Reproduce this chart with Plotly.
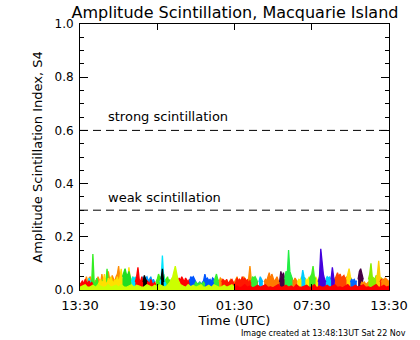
import plotly.graph_objects as go

# ---------------- data (hours since 13:30 UT, S4 values) ----------------
x_tick_vals = [0, 6, 12, 18, 24]
x_tick_text = ["13:30", "19:30", "01:30", "07:30", "13:30"]
y_tick_vals = [0.0, 0.2, 0.4, 0.6, 0.8, 1.0]
y_tick_text = ["0.0", "0.2", "0.4", "0.6", "0.8", "1.0"]
strong_level = 0.6
weak_level = 0.3

# each pass: (colour, start hour, step in hours, S4 values)
red1 = [0.02, 0.03, 0.035, 0.02, 0.04, 0.03, 0.025, 0.035, 0.02, 0.03, 0.02]
orange1 = [0.02, 0.04, 0.05, 0.03, 0.045, 0.05, 0.03, 0.04, 0.02, 0.035, 0.03, 0.05, 0.04, 0.025, 0.06,
           0.03, 0.045, 0.035, 0.05, 0.07, 0.04, 0.03, 0.055, 0.04, 0.03, 0.05, 0.06, 0.09, 0.04, 0.03]
green1 = [0.02, 0.03, 0.025, 0.04, 0.03, 0.02, 0.135, 0.03, 0.02, 0.045, 0.03, 0.02, 0.035, 0.025, 0.04,
          0.03, 0.02, 0.08, 0.03, 0.025, 0.02, 0.035, 0.02]
cyan0 = [0.02, 0.045, 0.03, 0.02]
yellow1 = [0.02, 0.03, 0.04, 0.025, 0.035, 0.06, 0.03, 0.02, 0.045, 0.03, 0.05, 0.035, 0.025, 0.04, 0.03,
           0.05, 0.03, 0.045, 0.08, 0.03, 0.04, 0.05, 0.035, 0.03, 0.085, 0.04, 0.03, 0.05, 0.025, 0.03, 0.02]
green2 = [0.05, 0.065, 0.08, 0.06, 0.055, 0.07, 0.05, 0.03]
ygreen1 = [0.01, 0.015, 0.02, 0.01, 0.012, 0.018, 0.01, 0.02, 0.015, 0.01,
           0.012, 0.02, 0.01, 0.015, 0.018, 0.01, 0.02, 0.012, 0.01, 0.015,
           0.02, 0.01, 0.018, 0.015, 0.01, 0.012, 0.02, 0.015, 0.01, 0.018,
           0.012, 0.02, 0.015, 0.01, 0.018, 0.03, 0.05, 0.09, 0.04, 0.02,
           0.015, 0.01, 0.02, 0.012, 0.018, 0.01, 0.015, 0.02, 0.01, 0.012,
           0.018, 0.01, 0.02, 0.015, 0.01, 0.012, 0.018, 0.01, 0.015, 0.02, 0.01]
red2 = [0.03, 0.05, 0.085, 0.04, 0.03, 0.05, 0.025, 0.04, 0.02, 0.035, 0.03, 0.02, 0.04, 0.025, 0.02,
        0.03, 0.015, 0.02, 0.025, 0.015, 0.02, 0.03, 0.02, 0.015, 0.025, 0.02, 0.03, 0.02, 0.035, 0.045,
        0.03, 0.04, 0.05, 0.03, 0.045, 0.035, 0.05, 0.04, 0.03, 0.045, 0.035, 0.03, 0.04, 0.025]
cyan1 = [0.03, 0.05, 0.04, 0.05, 0.03, 0.04, 0.02, 0.03]
cyan1b = [0.03, 0.04, 0.13, 0.05, 0.03, 0.02]
lblue1 = [0.04, 0.05, 0.03, 0.045, 0.05, 0.035, 0.04, 0.05, 0.03, 0.04, 0.03]
black1 = [0.03, 0.055, 0.04, 0.03]
black1b = [0.04, 0.08, 0.03]
green3 = [0.03, 0.04, 0.06, 0.045, 0.05, 0.04, 0.06, 0.035, 0.04, 0.05, 0.03, 0.04]
blue1 = [0.03, 0.05, 0.045, 0.05, 0.04, 0.03, 0.02, 0.025, 0.03, 0.02, 0.03, 0.035, 0.06, 0.04, 0.045,
         0.035, 0.04, 0.03, 0.045, 0.04, 0.03, 0.025]
green4 = [0.02, 0.03, 0.025, 0.02, 0.03, 0.02, 0.025, 0.03, 0.02]
green4b = [0.03, 0.045, 0.06, 0.04, 0.03]
orange2 = [0.03, 0.045, 0.04, 0.03, 0.025, 0.035, 0.03, 0.02, 0.03, 0.04, 0.035, 0.025, 0.03, 0.04, 0.05,
           0.03, 0.04, 0.035, 0.03, 0.05, 0.04, 0.035, 0.03, 0.045, 0.09, 0.04, 0.03, 0.035, 0.03]
red3 = [0.03, 0.04, 0.035, 0.03, 0.04, 0.025, 0.03, 0.035, 0.04, 0.03, 0.02, 0.03, 0.045, 0.035, 0.04,
        0.03, 0.05, 0.035, 0.045, 0.03, 0.04, 0.025, 0.035, 0.03, 0.02, 0.03, 0.025, 0.02, 0.03]
redbase = [0.01, 0.015, 0.008, 0.012, 0.02, 0.01, 0.015, 0.008, 0.012, 0.018,
           0.01, 0.015, 0.02, 0.01, 0.012, 0.008, 0.015, 0.02, 0.01, 0.012,
           0.018, 0.01, 0.015, 0.008, 0.02, 0.012, 0.01, 0.015, 0.018, 0.01,
           0.012, 0.02, 0.008, 0.015, 0.01, 0.012, 0.018, 0.01, 0.015, 0.02,
           0.01, 0.012, 0.008, 0.015, 0.02, 0.01, 0.012, 0.018, 0.01, 0.015,
           0.02, 0.01, 0.012, 0.008, 0.015, 0.02, 0.01, 0.012, 0.018, 0.01, 0.015]
green5 = [0.03, 0.05, 0.045, 0.05, 0.04, 0.03]
cyan2 = [0.03, 0.05, 0.04, 0.03]
orange3 = [0.03, 0.04, 0.035, 0.05, 0.065, 0.04, 0.06, 0.045, 0.03, 0.04, 0.05, 0.035, 0.03, 0.04, 0.03,
           0.045, 0.035, 0.05, 0.04, 0.055, 0.045, 0.05, 0.04, 0.03, 0.045, 0.035, 0.03]
dpurple1 = [0.03, 0.07, 0.05, 0.065, 0.04]
green6 = [0.04, 0.07, 0.06, 0.15, 0.07, 0.05, 0.04]
yellow2 = [0.03, 0.04, 0.035, 0.05, 0.03, 0.04, 0.045, 0.035, 0.04, 0.05, 0.03, 0.045, 0.04, 0.035, 0.05,
           0.04, 0.03, 0.055]
cyan3 = [0.04, 0.075, 0.05, 0.04]
cyan3b = [0.04, 0.05, 0.045, 0.05, 0.03]
green7 = [0.04, 0.05, 0.06, 0.09, 0.05, 0.04]
purple1 = [0.03, 0.05, 0.155, 0.1, 0.06, 0.04, 0.03]
purple1b = [0.04, 0.085, 0.05, 0.03]
redor4 = [0.04, 0.05, 0.065, 0.05, 0.06, 0.045, 0.05, 0.055, 0.04, 0.05, 0.035, 0.04, 0.03, 0.035]
yellow3 = [0.04, 0.06, 0.08, 0.05, 0.04]
blue2 = [0.03, 0.04, 0.035, 0.04, 0.03, 0.035]
dpurple2 = [0.04, 0.07, 0.08, 0.06, 0.04]
orange4 = [0.02, 0.03, 0.025, 0.03, 0.02, 0.025, 0.03, 0.02]
ygreen2 = [0.04, 0.06, 0.1, 0.05, 0.045, 0.04, 0.055, 0.045, 0.05, 0.04, 0.045, 0.04, 0.035]
yellow4 = [0.04, 0.06, 0.11, 0.05, 0.04]
red5 = [0.03, 0.04, 0.035, 0.04, 0.03, 0.04, 0.035, 0.03]
orange5 = [0.03, 0.04, 0.035, 0.045, 0.04, 0.035, 0.03]

passes = [
    ("#ff8c00", 0.3, 0.1, orange1),
    ("#33ee22", 0.4, 0.1, green1),
    ("#00e5ff", 0.6, 0.1, cyan0),
    ("#ff0000", 0.0, 0.1, red1),
    ("#ffe000", 1.4, 0.1, yellow1),
    ("#22dd22", 3.3, 0.1, green2),
    ("#00e5ff", 4.0, 0.1, cyan1),
    ("#0099ff", 4.8, 0.1, lblue1),
    ("#ff0000", 4.3, 0.1, red2),
    ("#000000", 4.9, 0.1, black1),
    ("#44ee11", 5.9, 0.1, green3),
    ("#00e5ff", 6.2, 0.1, cyan1b),
    ("#000000", 6.3, 0.1, black1b),
    ("#0055ff", 8.5, 0.1, blue1),
    ("#33ee33", 8.9, 0.1, green4),
    ("#33ee33", 10.4, 0.1, green4b),
    ("#ff8c00", 10.8, 0.1, orange2),
    ("#ff1800", 11.0, 0.1, red3),
    ("#33ee33", 13.3, 0.1, green5),
    ("#00bbff", 13.9, 0.1, cyan2),
    ("#ff7800", 14.3, 0.1, orange3),
    ("#440044", 15.5, 0.1, dpurple1),
    ("#22ee44", 15.9, 0.1, green6),
    ("#ffee00", 16.9, 0.1, yellow2),
    ("#00ccff", 17.2, 0.1, cyan3),
    ("#00ccff", 19.1, 0.1, cyan3b),
    ("#44ee22", 17.8, 0.1, green7),
    ("#4400dd", 18.5, 0.1, purple1),
    ("#4400dd", 19.5, 0.1, purple1b),
    ("#ff4400", 19.8, 0.1, redor4),
    ("#ffdd00", 20.7, 0.1, yellow3),
    ("#0066ff", 21.0, 0.1, blue2),
    ("#440044", 21.6, 0.1, dpurple2),
    ("#ff8c00", 21.8, 0.1, orange4),
    ("#88ee00", 22.4, 0.1, ygreen2),
    ("#ffcc00", 23.0, 0.1, yellow4),
    ("#ff2200", 23.3, 0.1, red5),
    ("#ff8800", 23.4, 0.1, orange5),
    ("#ccff00", 0.0, 0.2, ygreen1),
    ("#ff0000", 12.0, 0.2, redbase),
]

FONT = "DejaVu Sans"
fig = go.Figure()

for colour, start, step, vals in passes:
    xs = [start + i * step for i in range(len(vals))]
    fig.add_trace(go.Scatter(x=xs, y=vals, mode="lines",
                             line=dict(color=colour, width=1.3),
                             fill="tozeroy", fillcolor=colour,
                             showlegend=False, hoverinfo="skip"))

for lvl in (strong_level, weak_level):
    fig.add_trace(go.Scatter(x=[0, 24], y=[lvl, lvl], mode="lines",
                             line=dict(color="black", width=1, dash="8px,5px"),
                             showlegend=False, hoverinfo="skip"))

fig.add_annotation(x=2.05, y=0.652, xref="x", yref="y", text="strong scintillation",
                   showarrow=False, xanchor="left", yanchor="middle",
                   font=dict(family=FONT, size=13, color="black"))
fig.add_annotation(x=2.05, y=0.348, xref="x", yref="y", text="weak scintillation",
                   showarrow=False, xanchor="left", yanchor="middle",
                   font=dict(family=FONT, size=13, color="black"))
fig.add_annotation(x=(415 - 80) / 316, y=(290 - 334) / 266, xref="paper", yref="paper",
                   text="Image created at 13:48:13UT Sat 22 Nov", showarrow=False,
                   xanchor="right", yanchor="middle",
                   font=dict(family=FONT, size=8, color="black"))

fig.update_layout(
    width=420, height=340,
    margin=dict(l=80, r=24, t=24, b=50),
    paper_bgcolor="white", plot_bgcolor="white",
    font=dict(family=FONT, color="black"),
    title=dict(text="Amplitude Scintillation, Macquarie Island",
               x=235 / 420, xref="container", xanchor="center",
               y=1 - 12 / 340, yref="container", yanchor="middle",
               font=dict(family=FONT, size=16, color="black")),
    xaxis=dict(range=[0, 24], tickvals=x_tick_vals, ticktext=x_tick_text,
               ticks="inside", ticklen=6, tickcolor="black", mirror="ticks",
               showline=True, linecolor="black", linewidth=1, showgrid=False, zeroline=False,
               tickfont=dict(family=FONT, size=13), ticklabelstandoff=3,
               title=dict(text="Time (UTC)", font=dict(family=FONT, size=13), standoff=2)),
    yaxis=dict(range=[0, 1], tickvals=y_tick_vals, ticktext=y_tick_text,
               ticks="inside", ticklen=8, tickcolor="black", mirror="ticks",
               minor=dict(dtick=0.05, ticks="inside", ticklen=4, tickcolor="black", showgrid=False),
               showline=True, linecolor="black", linewidth=1, showgrid=False, zeroline=False,
               tickfont=dict(family=FONT, size=12), ticklabelstandoff=3,
               title=dict(text="Amplitude Scintillation Index, S4",
                          font=dict(family=FONT, size=13), standoff=8)),
)

fig.write_html("out.html")
